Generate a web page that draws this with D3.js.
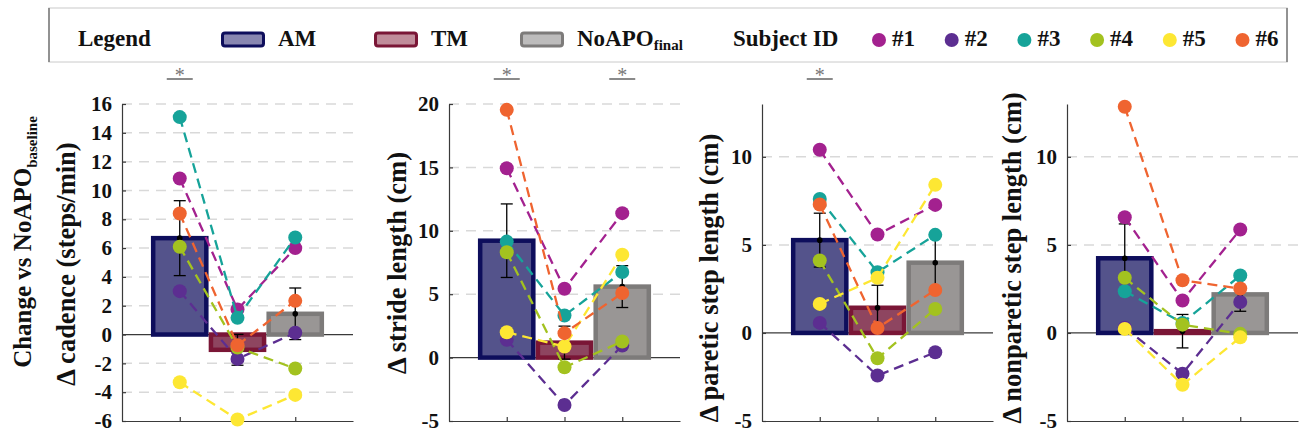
<!DOCTYPE html>
<html><head><meta charset="utf-8">
<script src="https://cdn.jsdelivr.net/npm/d3@7"></script>
<style>
body{margin:0;background:#fff}
svg{display:block}
</style>
</head><body>
<svg id="chart" width="1300" height="437"></svg>
<script>
// ---------------- data ----------------
const conditions = ["AM", "TM", "NoAPO"];
const subjects = ["#1", "#2", "#3", "#4", "#5", "#6"];
const subjectColors = ["#a3218f", "#5c2e91", "#16a399", "#a3c21f", "#fde733", "#ef6430"];
const barFill = ["#54538b", "#8e4560", "#999695"];
const barEdge = ["#0e0e5c", "#7a1636", "#7d7b7a"];
const legendFill = ["#8987b1", "#c08c9a", "#bdbcbc"];

// values per subject: [AM, TM, NoAPO]
const cadenceBySubject = [
  [10.83, 1.74, 6.00], [3.01, -1.69, 0.12], [15.09, 1.16, 6.74],
  [6.09, -0.90, -2.36], [-3.31, -5.90, -4.19], [8.40, -0.74, 2.34]];
const cadenceMean = [6.69, -1.06, 1.44];
const cadenceSem = [2.60, 1.07, 1.79];

const strideBySubject = [
  [14.93, 5.43, 11.39], [1.40, -3.74, 0.95], [9.15, 3.32, 6.75],
  [8.31, -0.76, 1.27], [2.00, 0.87, 8.12], [19.54, 1.93, 5.09]];
const strideMean = [9.22, 1.18, 5.60];
const strideSem = [2.90, 1.30, 1.65];

const pareticBySubject = [
  [10.40, 5.59, 7.27], [0.57, -2.42, -1.10], [7.61, 3.45, 5.57],
  [4.11, -1.44, 1.36], [1.65, 3.13, 8.41], [7.29, 0.28, 2.44]];
const pareticMean = [5.27, 1.43, 3.99];
const pareticSem = [1.53, 1.28, 1.50];

const nonpareticBySubject = [
  [6.57, 1.84, 5.87], [0.30, -2.31, 1.76], [2.37, 0.57, 3.26],
  [3.13, 0.47, -0.05], [0.23, -2.94, -0.25], [12.84, 2.99, 2.52]];
const nonpareticMean = [4.24, 0.10, 2.19];
const nonpareticSem = [1.95, 0.95, 0.96];

const cadenceTicks = [-6, -4, -2, 0, 2, 4, 6, 8, 10, 12, 14, 16];
const strideTicks = [-5, 0, 5, 10, 15, 20];
const stepTicks = [-5, 0, 5, 10];

const cadenceLimits = [-6, 16];
const strideLimits = [-5, 20];
const stepLimits = [-5, 13];

const yLabels = ["Δ cadence (steps/min)", "Δ stride length (cm)", "Δ paretic step length (cm)", "Δ nonparetic step length (cm)"];
const significant = [[0], [0, 2], [0], []];

// ---------------- layout ----------------
const FONT = '"Liberation Serif", "Times New Roman", Tinos, serif';
const panels = [
  {bySubject: cadenceBySubject, mean: cadenceMean, sem: cadenceSem, ticks: cadenceTicks, lim: cadenceLimits},
  {bySubject: strideBySubject, mean: strideMean, sem: strideSem, ticks: strideTicks, lim: strideLimits},
  {bySubject: pareticBySubject, mean: pareticMean, sem: pareticSem, ticks: stepTicks, lim: stepLimits},
  {bySubject: nonpareticBySubject, mean: nonpareticMean, sem: nonpareticSem, ticks: stepTicks, lim: stepLimits}
];
const panelLeft = [122, 449, 762, 1067];
const panelW = 231, plotTop = 104, plotBottom = 421;
const labelX = [75, 406, 718, 1021];
const labelY = [264, 263, 278, 258];

const svg = d3.select("#chart");
function styled(t, size, weight) {
  return t.attr("font-family", FONT).style("font-family", FONT)
    .attr("font-weight", weight || "bold").style("font-weight", weight || "bold")
    .attr("font-size", size).attr("fill", "#111");
}

panels.forEach((p, pi) => {
  const x = d3.scaleLinear().domain([0, 4]).range([panelLeft[pi], panelLeft[pi] + panelW]);
  const y = d3.scaleLinear().domain(p.lim).range([plotBottom, plotTop]);
  const g = svg.append("g");

  // grid
  g.selectAll("line.grid").data(p.ticks.filter(t => t !== p.lim[0] && t !== 0)).enter()
    .append("line").attr("x1", x(0)).attr("x2", x(4))
    .attr("y1", d => y(d)).attr("y2", d => y(d))
    .attr("stroke", "#d9d9d9").attr("stroke-width", 1.5).attr("stroke-dasharray", "10,7");

  // zero line
  g.append("line").attr("x1", x(0)).attr("x2", x(4)).attr("y1", y(0)).attr("y2", y(0))
    .attr("stroke", "#3a3a3a").attr("stroke-width", 1.2);

  // axes (lines and tick marks from d3, labels drawn below)
  const ya = g.append("g").attr("transform", `translate(${x(0)},0)`)
    .call(d3.axisLeft(y).tickValues(p.ticks).tickSizeInner(-4).tickSizeOuter(0).tickFormat(""));
  const xa = g.append("g").attr("transform", `translate(0,${y(p.lim[0])})`)
    .call(d3.axisBottom(x).tickValues([1, 2, 3]).tickSizeInner(-4).tickSizeOuter(0).tickFormat(""));
  [ya, xa].forEach(a => {
    a.select(".domain").attr("stroke", "#3a3a3a").attr("stroke-width", 1.2);
    a.selectAll(".tick line").attr("stroke", "#3a3a3a").attr("stroke-width", 1.2);
    a.selectAll(".tick text").remove();
  });
  g.selectAll(null).data(p.ticks).enter().append("text")
    .call(t => styled(t, 21))
    .attr("x", x(0) - 10).attr("y", d => y(d)).attr("dy", "0.34em")
    .attr("text-anchor", "end").text(d => d3.format("d")(d).replace("−", "-"));

  // bars
  const hw = 0.46;
  g.selectAll("rect.bar").data(p.mean).enter().append("rect")
    .attr("x", (d, i) => x(i + 1 - hw)).attr("width", x(hw * 2) - x(0))
    .attr("y", d => y(Math.max(0, d))).attr("height", d => Math.abs(y(d) - y(0)))
    .attr("fill", (d, i) => barFill[i]).attr("stroke", (d, i) => barEdge[i]).attr("stroke-width", 4.5);

  // error bars
  p.mean.forEach((m, i) => {
    const cx = x(i + 1);
    g.append("line").attr("x1", cx).attr("x2", cx).attr("y1", y(m - p.sem[i])).attr("y2", y(m + p.sem[i]))
      .attr("stroke", "#000").attr("stroke-width", 1.3);
    [m - p.sem[i], m + p.sem[i]].forEach(v => g.append("line").attr("x1", cx - 6).attr("x2", cx + 6)
      .attr("y1", y(v)).attr("y2", y(v)).attr("stroke", "#000").attr("stroke-width", 1.3));
    g.append("circle").attr("cx", cx).attr("cy", y(m)).attr("r", 2.8).attr("fill", "#000");
  });

  // subjects
  p.bySubject.forEach((vals, si) => {
    const line = d3.line().x((d, i) => x(i + 1)).y(d => y(d));
    g.append("path").attr("d", line(vals)).attr("fill", "none")
      .attr("stroke", subjectColors[si]).attr("stroke-width", 2.3).attr("stroke-dasharray", "10,6");
    g.selectAll(null).data(vals).enter().append("circle")
      .attr("cx", (d, i) => x(i + 1)).attr("cy", d => y(d)).attr("r", 7)
      .attr("fill", subjectColors[si]);
  });

  // significance
  significant[pi].forEach(ci => {
    const cx = x(ci + 1);
    g.append("line").attr("x1", cx - 13).attr("x2", cx + 13).attr("y1", 79).attr("y2", 79)
      .attr("stroke", "#8a8a8a").attr("stroke-width", 2);
    styled(g.append("text"), 20, "normal").attr("x", cx).attr("y", 82)
      .attr("text-anchor", "middle").attr("fill", "#777").text("*");
  });

  // y label
  styled(g.append("text"), 26.5).attr("transform", `translate(${labelX[pi]},${labelY[pi]}) rotate(-90)`)
    .attr("text-anchor", "middle").text(yLabels[pi]);
});

// outer label for first panel
const outer = styled(svg.append("text"), 25).attr("transform", "translate(31,242) rotate(-90)")
  .attr("text-anchor", "middle");
outer.append("tspan").text("Change  vs NoAPO");
outer.append("tspan").attr("dy", 6).attr("font-size", 15).text("baseline");

// ---------------- legend ----------------
const lg = svg.append("g");
lg.append("rect").attr("x", 49).attr("y", 8).attr("width", 1238).attr("height", 54)
  .attr("fill", "#fff").attr("stroke", "#dcdcdc").attr("stroke-width", 1.5);
[49, 1287].forEach(xx => lg.append("line").attr("x1", xx).attr("x2", xx).attr("y1", 8).attr("y2", 62)
  .attr("stroke", "#777").attr("stroke-width", 1.5));
styled(lg.append("text"), 23).attr("x", 78).attr("y", 46).text("Legend");
const boxX = [221, 374, 520];
conditions.forEach((c, i) => {
  lg.append("rect").attr("x", boxX[i] + 1.5).attr("y", 33).attr("width", 41).attr("height", 13)
    .attr("rx", 2.5).attr("fill", legendFill[i]).attr("stroke", barEdge[i]).attr("stroke-width", 3);
  const t = styled(lg.append("text"), 23).attr("x", boxX[i] + 57).attr("y", 46);
  t.append("tspan").text(c);
  if (c === "NoAPO") t.append("tspan").attr("dy", 4).attr("font-size", 15).text("final");
});
styled(lg.append("text"), 23).attr("x", 733).attr("y", 46).text("Subject ID");
subjects.forEach((s, i) => {
  const cx = 879 + i * 72.7;
  lg.append("circle").attr("cx", cx).attr("cy", 40).attr("r", 7).attr("fill", subjectColors[i]);
  styled(lg.append("text"), 23).attr("x", cx + 13).attr("y", 46).text(s);
});
</script>
</body></html>
